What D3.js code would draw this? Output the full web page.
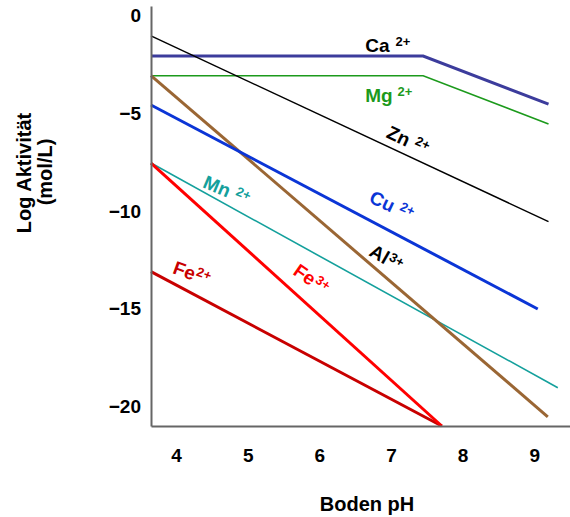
<!DOCTYPE html>
<html>
<head>
<meta charset="utf-8">
<script src="https://cdn.jsdelivr.net/npm/d3@7"></script>
<style>
  body { margin: 0; background: #fff; }
  text { font-family: "Liberation Sans", Arial, sans-serif; font-weight: bold; }
</style>
</head>
<body>
<div id="chart"></div>
<script>
// pH values and log activities
const caPh = [3.65, 7.45, 9.2];
const caLog = [-2.06, -2.06, -4.52];
const mgPh = [3.65, 7.45, 9.2];
const mgLog = [-3.07, -3.07, -5.54];
const znPh = [3.65, 9.2];
const znLog = [-1.03, -10.54];
const cuPh = [3.65, 9.05];
const cuLog = [-4.57, -15.01];
const alPh = [3.65, 9.19];
const alLog = [-3.06, -20.53];
const mnPh = [3.65, 9.33];
const mnLog = [-7.54, -19.04];
const fe3Ph = [3.65, 7.71];
const fe3Log = [-7.54, -21];
const fe2Ph = [3.65, 7.71];
const fe2Log = [-13.1, -21];

const xTicks = [4, 5, 6, 7, 8, 9];
const yTicks = [0, -5, -10, -15, -20];

const width = 570;
const height = 517;

const svg = d3.select("#chart")
    .append("svg")
    .attr("width", width)
    .attr("height", height);

const x = d3.scaleLinear().domain([3.65, 9.5]).range([151, 570]);
const y = d3.scaleLinear().domain([-21, 0.5]).range([426, 6]);

const series = [
    { name: "Ca", ph: caPh, log: caLog, color: "#3c3c9c", w: 3 },
    { name: "Mg", ph: mgPh, log: mgLog, color: "#1c9a1c", w: 1.6 },
    { name: "Zn", ph: znPh, log: znLog, color: "#000000", w: 1.5 },
    { name: "Mn", ph: mnPh, log: mnLog, color: "#14a09c", w: 1.6 },
    { name: "Al", ph: alPh, log: alLog, color: "#9a6634", w: 3 },
    { name: "Cu", ph: cuPh, log: cuLog, color: "#0b35d6", w: 3 },
    { name: "Fe2", ph: fe2Ph, log: fe2Log, color: "#c80000", w: 3 },
    { name: "Fe3", ph: fe3Ph, log: fe3Log, color: "#ff0000", w: 3 }
];

const line = d3.line()
    .x(d => x(d[0]))
    .y(d => y(d[1]));

svg.append("g")
    .selectAll("path")
    .data(series)
    .enter().append("path")
    .attr("d", d => line(d.ph.map((p, i) => [p, d.log[i]])))
    .attr("fill", "none")
    .attr("stroke", d => d.color)
    .attr("stroke-width", d => d.w);

// Axes
const xAxis = svg.append("g")
    .attr("transform", `translate(0,${y(-21)})`)
    .call(d3.axisBottom(x).tickValues(xTicks).tickFormat(d3.format("d"))
        .tickSize(0).tickSizeOuter(0).tickPadding(23));
const yAxis = svg.append("g")
    .attr("transform", `translate(${x(3.65)},0)`)
    .call(d3.axisLeft(y).tickValues(yTicks).tickFormat(d3.format("d"))
        .tickSize(0).tickSizeOuter(0).tickPadding(10));

[xAxis, yAxis].forEach(a => {
    a.select(".domain").attr("stroke", "#666").attr("stroke-width", 2);
    a.selectAll("text")
        .attr("font-size", 19)
        .attr("font-family", "Liberation Sans, Arial, sans-serif")
        .attr("font-weight", "bold")
        .attr("fill", "#000");
});

// Axis titles
svg.append("text")
    .attr("x", 367).attr("y", 511)
    .attr("text-anchor", "middle")
    .attr("font-size", 20)
    .text("Boden pH");

svg.append("text")
    .attr("transform", "translate(31,173) rotate(-90)")
    .attr("text-anchor", "middle")
    .attr("font-size", 20)
    .text("Log Aktivität");

svg.append("text")
    .attr("transform", "translate(52,172) rotate(-90)")
    .attr("text-anchor", "middle")
    .attr("font-size", 20)
    .text("(mol/L)");

// Ion labels, anchored in data units
const labels = [
    { base: "Ca", sup: "2+", gap: 6, ph: 6.64, log: -1.84, rot: 0, color: "#000" },
    { base: "Mg", sup: "2+", gap: 5, ph: 6.64, log: -4.4, rot: 0, color: "#1c9a1c" },
    { base: "Zn", sup: "2+", gap: 6, ph: 6.92, log: -6.21, rot: 25, color: "#000" },
    { base: "Cu", sup: "2+", gap: 6, ph: 6.68, log: -9.53, rot: 25, color: "#0b35d6" },
    { base: "Al", sup: "3+", gap: 1, ph: 6.68, log: -12.25, rot: 30, color: "#000" },
    { base: "Mn", sup: "2+", gap: 6, ph: 4.36, log: -8.77, rot: 23, color: "#14a09c" },
    { base: "Fe", sup: "2+", gap: 1, ph: 3.94, log: -13.17, rot: 20, color: "#c80000" },
    { base: "Fe", sup: "3+", gap: 1, ph: 5.62, log: -13.2, rot: 35, color: "#ff0000" }
];

const lab = svg.append("g")
    .selectAll("text")
    .data(labels)
    .enter().append("text")
    .attr("transform", d => `translate(${x(d.ph)},${y(d.log)}) rotate(${d.rot})`)
    .attr("fill", d => d.color)
    .attr("font-size", 19);

lab.append("tspan").text(d => d.base);
lab.append("tspan")
    .attr("dx", d => d.gap)
    .attr("dy", -6)
    .attr("font-size", 13)
    .text(d => d.sup);
</script>
</body>
</html>
